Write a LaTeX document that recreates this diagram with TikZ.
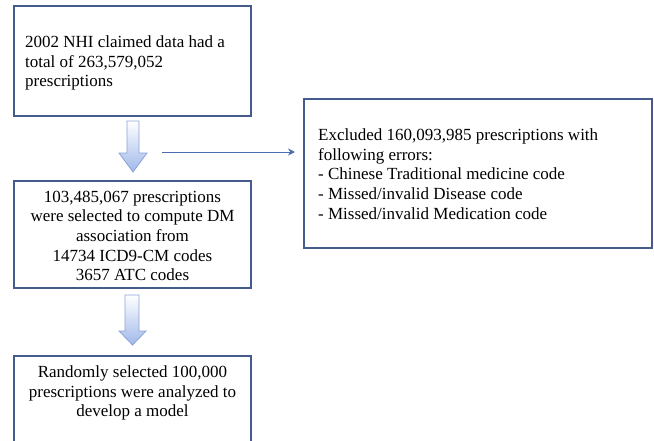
\documentclass[tikz,border=0pt]{standalone}
\usepackage{fontspec}
\setmainfont{Liberation Serif}
\usetikzlibrary{arrows.meta}
\definecolor{boxline}{RGB}{68,91,140}
\definecolor{arrline}{RGB}{74,108,176}
\definecolor{blkfill}{RGB}{160,184,234}
\definecolor{blkline}{RGB}{140,163,214}
\tikzset{
  box/.style={draw=boxline, line width=2pt, fill=white},
  txt/.style={inner sep=0pt, font=\fontsize{17}{19.6}\selectfont},
  blk/.style={draw=blkline, line width=0.8pt, top color=white, bottom color=blkfill},
  thin arrow/.style={draw=arrline, line width=1pt, -{Stealth[length=7pt,width=7pt]}}
}
\begin{document}
\begin{tikzpicture}[x=1pt,y=-1pt]
\useasboundingbox (0,0) rectangle (654,440);
\begin{scope}
\clip (0,0) rectangle (654,440);
% boxes
\draw[box] (14,6) rectangle (251,116);
\coordinate (b1s) at (133,116);
\node[txt, anchor=west, align=left] (t1) at (25,63) {2002 NHI claimed data had a\\total of 263,579,052\\prescriptions};

\draw[box] (304,99) rectangle (652,248);
\coordinate (b3w) at (304,152);
\node[txt, anchor=west, align=left] (t3) at (318,174) {Excluded 160,093,985 prescriptions with\\following errors:\\- Chinese Traditional medicine code\\- Missed/invalid Disease code\\- Missed/invalid Medication code};

\draw[box] (14,181) rectangle (251,288);
\node[txt, align=center] (t2) at (132.5,236) {103,485,067 prescriptions\\were selected to compute DM\\association from\\14734 ICD9-CM codes\\3657 ATC codes};

\draw[box] (14,356) rectangle (251,470);
\node[txt, align=center] (t4) at (132.5,393) {Randomly selected 100,000\\prescriptions were analyzed to\\develop a model};
\end{scope}

% block arrows
\path[blk] (127,121) -- (139,121) -- (139,153) -- (147,153) -- (133,172) -- (119,153) -- (127,153) -- cycle;
\path[blk] (125,295) -- (139,295) -- (139,331) -- (146,331) -- (132.5,345) -- (119,331) -- (125,331) -- cycle;

% thin arrow
\coordinate (hs) at (162,152);
\draw[thin arrow, shorten >=9pt] (hs) -- (b3w);
\end{tikzpicture}
\end{document}
